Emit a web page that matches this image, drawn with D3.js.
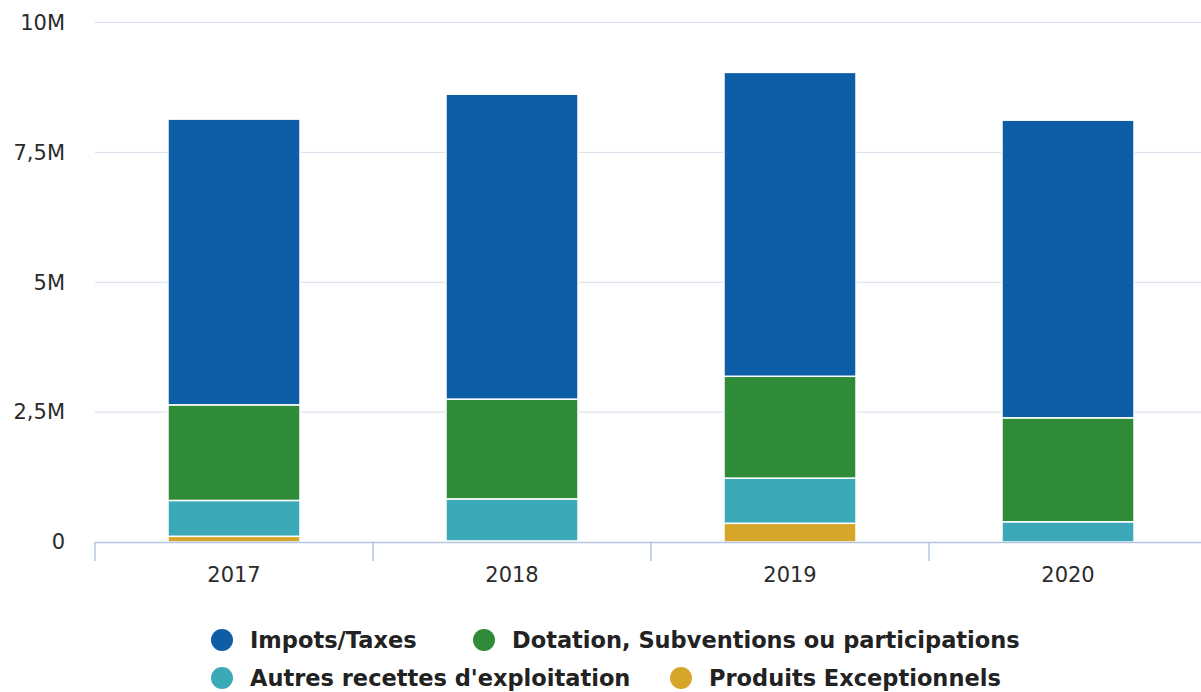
<!DOCTYPE html>
<html>
<head>
<meta charset="utf-8">
<script src="https://cdn.jsdelivr.net/npm/d3@7"></script>
<style>
  html, body { margin: 0; padding: 0; background: #fff; }
  svg { display: block; font-family: "DejaVu Sans", sans-serif; }
</style>
</head>
<body>
<svg id="chart" width="1201" height="692"></svg>
<script>
// Recettes par année, en millions d'euros
const years = ["2017", "2018", "2019", "2020"];
const seriesNames = [
  "Impots/Taxes",
  "Dotation, Subventions ou participations",
  "Autres recettes d'exploitation",
  "Produits Exceptionnels"
];
const impots        = [5.50, 5.87, 5.85, 5.73];
const dotations     = [1.84, 1.92, 1.96, 2.00];
const autres        = [0.69, 0.81, 0.87, 0.39];
const exceptionnels = [0.11, 0.02, 0.36, 0.00];
const yTicks = [0, 2.5, 5, 7.5, 10];
const yTickLabels = ["0", "2,5M", "5M", "7,5M", "10M"];
const colors = ["#0e5ea7", "#2f8b38", "#3ba9b8", "#d6a62a"];

const svg = d3.select("#chart");

const x = d3.scaleBand().domain(years).range([95, 1207]).paddingInner(0).paddingOuter(0);
const y = d3.scaleLinear().domain([0, 10]).range([542, 22.5]);
const barWidth = 132;

// Gridlines
svg.append("g")
  .selectAll("line")
  .data(yTicks.filter(d => d > 0))
  .join("line")
  .attr("x1", 95).attr("x2", 1201)
  .attr("y1", d => y(d)).attr("y2", d => y(d))
  .attr("stroke", "#d6dcea").attr("stroke-width", 1);

// Y labels
svg.append("g")
  .selectAll("text")
  .data(yTicks)
  .join("text")
  .attr("x", 65)
  .attr("y", d => y(d))
  .attr("dy", "0.35em")
  .attr("text-anchor", "end")
  .attr("font-size", 21)
  .attr("fill", "#2b2b2b")
  .text((d, i) => yTickLabels[i]);

// Stacked bars (bottom to top: exceptionnels, autres, dotations, impots)
const rows = years.map((yr, i) => ({
  year: yr,
  s0: impots[i], s1: dotations[i], s2: autres[i], s3: exceptionnels[i]
}));
const stack = d3.stack().keys(["s3", "s2", "s1", "s0"]);
const layers = stack(rows);
const colorByKey = { s0: colors[0], s1: colors[1], s2: colors[2], s3: colors[3] };

svg.append("g")
  .selectAll("g")
  .data(layers)
  .join("g")
  .attr("fill", d => colorByKey[d.key])
  .selectAll("rect")
  .data(d => d)
  .join("rect")
  .attr("x", d => x(d.data.year) + (x.bandwidth() - barWidth) / 2)
  .attr("width", barWidth)
  .attr("y", d => y(d[1]))
  .attr("height", d => Math.max(0, y(d[0]) - y(d[1])))
  .attr("stroke", "#fff")
  .attr("stroke-width", 1.5);

// X axis line, ticks at category boundaries, labels
const axisG = svg.append("g");
axisG.append("line")
  .attr("x1", 95).attr("x2", 1201)
  .attr("y1", 542.5).attr("y2", 542.5)
  .attr("stroke", "#b5c5e2").attr("stroke-width", 1.5);
axisG.selectAll("line.tick")
  .data(d3.range(years.length + 1))
  .join("line")
  .attr("class", "tick")
  .attr("x1", i => x.range()[0] + i * x.step())
  .attr("x2", i => x.range()[0] + i * x.step())
  .attr("y1", 542).attr("y2", 561)
  .attr("stroke", "#b5c5e2").attr("stroke-width", 1.5);
axisG.selectAll("text")
  .data(years)
  .join("text")
  .attr("x", d => x(d) + x.bandwidth() / 2)
  .attr("y", 582)
  .attr("text-anchor", "middle")
  .attr("font-size", 21)
  .attr("fill", "#2b2b2b")
  .text(d => d);

// Legend: two rows, symbol centre x for each item
const legendItems = [
  { s: 0, row: 0, cx: 222 },
  { s: 1, row: 0, cx: 484 },
  { s: 2, row: 1, cx: 222 },
  { s: 3, row: 1, cx: 681 }
];
const legendY = [640, 678];
const legend = svg.append("g")
  .selectAll("g")
  .data(legendItems)
  .join("g");
legend.append("circle")
  .attr("cx", d => d.cx).attr("cy", d => legendY[d.row])
  .attr("r", 11)
  .attr("fill", d => colors[d.s]);
legend.append("text")
  .attr("x", d => d.cx + 28).attr("y", d => legendY[d.row])
  .attr("dy", "0.35em")
  .attr("font-size", 22.5)
  .attr("font-weight", "bold")
  .attr("fill", "#222")
  .text(d => seriesNames[d.s]);
</script>
</body>
</html>
